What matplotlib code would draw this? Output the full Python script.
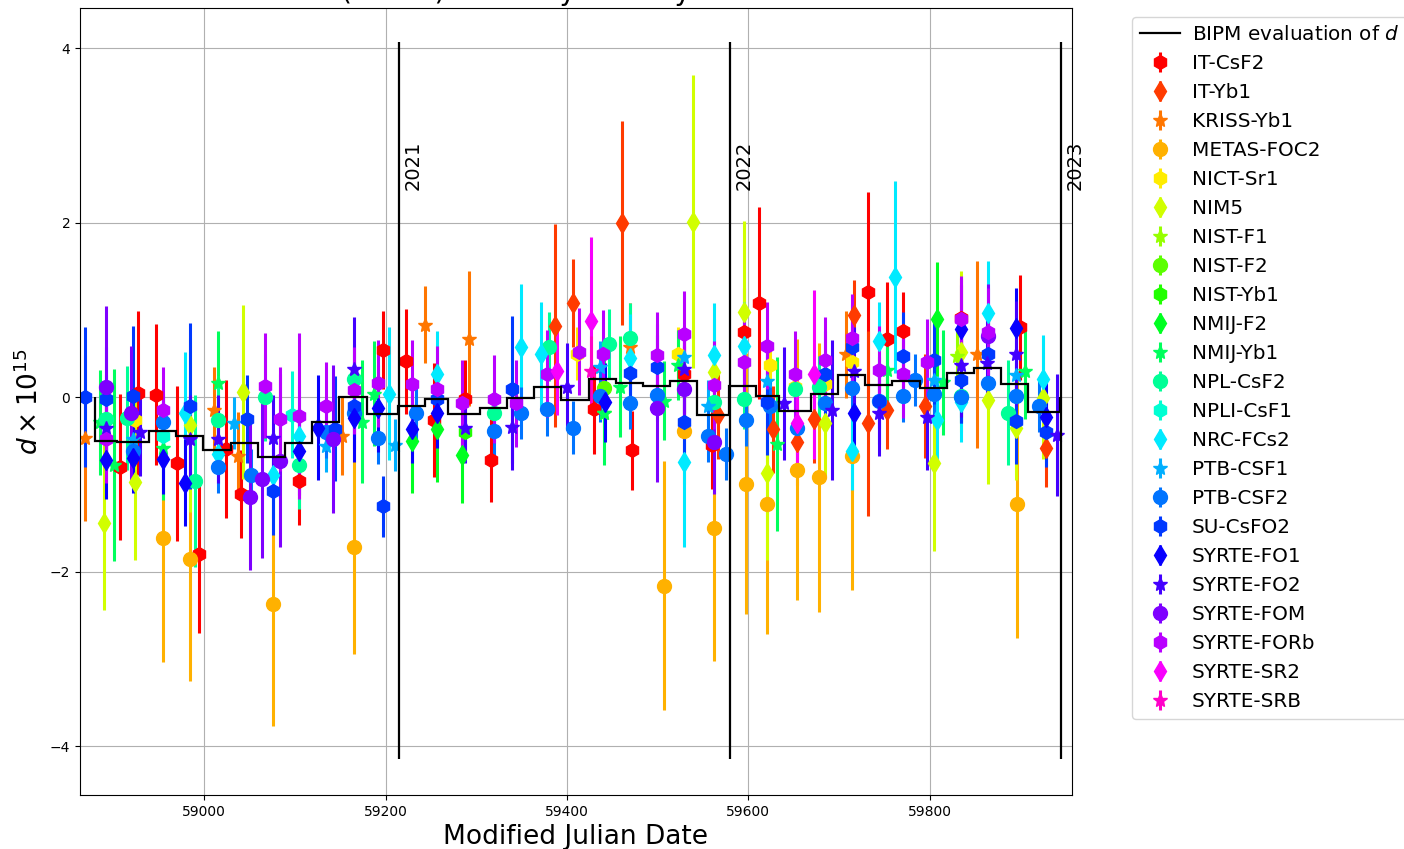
import numpy as np
import matplotlib
matplotlib.use("Agg")
import matplotlib.pyplot as plt

# --- BIPM evaluation of d (monthly steps) ---
STEP_EDGES = [58879, 58904, 58939, 58969, 58999, 59029, 59059, 59089, 59119, 59149,
              59179, 59214, 59244, 59269, 59304, 59334, 59364, 59394, 59424, 59454,
              59484, 59514, 59544, 59579, 59609, 59634, 59669, 59699, 59729, 59759,
              59789, 59819, 59849, 59879, 59909, 59944]
STEP_D = [-0.50, -0.51, -0.39, -0.44, -0.61, -0.52, -0.69, -0.53, -0.29, 0.00,
          -0.19, -0.10, -0.02, -0.19, -0.13, -0.01, 0.12, -0.03, 0.21, 0.16,
          0.13, 0.18, -0.20, 0.13, 0.01, -0.16, 0.04, 0.25, 0.14, 0.18,
          0.10, 0.28, 0.33, 0.15, -0.17]

YEAR_MJD = [59215, 59580, 59945]
YEAR_LABELS = ["2021", "2022", "2023"]

# --- per standard: (MJD, d x 1e15, uncertainty) ---
IT_CSF2 = ([58907, 58927, 58947, 58970, 58994, 59024, 59040, 59104, 59197, 59222, 59253, 59288,
            59316, 59430, 59472, 59529, 59560, 59595, 59612, 59732, 59753, 59771, 59835, 59900],
           [-0.80, 0.05, 0.03, -0.76, -1.80, -0.59, -1.11, -0.96, 0.54, 0.41, -0.26, -0.02,
            -0.72, -0.14, -0.61, 0.27, -0.55, 0.75, 1.08, 1.20, 0.67, 0.76, 0.91, 0.80],
           [0.84, 0.94, 0.81, 0.89, 0.90, 0.79, 0.50, 0.50, 0.45, 0.60, 0.65, 0.45,
            0.48, 0.51, 0.45, 0.50, 0.50, 0.50, 1.10, 1.15, 0.65, 0.45, 0.45, 0.60])
IT_YB1 = ([59387, 59407, 59461, 59567, 59627, 59654, 59672, 59717, 59732, 59753, 59795, 59928],
          [0.82, 1.08, 2.00, -0.21, -0.37, -0.51, -0.25, 0.94, -0.30, -0.15, -0.10, -0.58],
          [1.16, 0.50, 1.17, 0.50, 0.50, 0.50, 0.50, 0.40, 1.06, 0.45, 0.60, 0.45])
KRISS_YB1 = ([58869, 59011, 59037, 59152, 59244, 59292, 59470, 59708, 59852],
             [-0.47, -0.15, -0.67, -0.44, 0.83, 0.67, 0.58, 0.49, 0.49],
             [0.95, 0.50, 0.50, 0.45, 0.44, 0.77, 0.50, 0.50, 1.07])
METAS_FOC2 = ([58954, 58984, 59076, 59165, 59507, 59529, 59562, 59597, 59621, 59654, 59678,
               59714, 59896],
              [-1.61, -1.85, -2.37, -1.72, -2.16, -0.39, -1.50, -0.99, -1.22, -0.83, -0.92,
               -0.68, -1.23],
              [1.43, 1.40, 1.40, 1.22, 1.43, 0.60, 1.52, 1.50, 1.50, 1.50, 1.54, 1.53, 1.53])
NICT_SR1 = ([58924, 59411, 59523, 59624, 59652, 59685, 59714],
            [-0.26, 0.50, 0.50, 0.37, 0.12, 0.15, 0.40],
            [0.30, 0.30, 0.30, 0.25, 0.25, 0.25, 0.25])
NIM5 = ([58889, 58924, 58984, 59043, 59539, 59562, 59595, 59621, 59685, 59805, 59835, 59864,
         59895, 59925],
        [-1.44, -0.97, -0.32, 0.06, 2.01, 0.29, 0.97, -0.87, -0.30, -0.76, 0.52, -0.03,
         -0.35, -0.01],
        [1.00, 0.90, 1.00, 1.00, 1.68, 0.60, 1.05, 1.00, 0.60, 1.00, 0.92, 0.96, 0.60, 0.70])
NIST_F1 = ([59441, 59830], [-0.18, 0.47], [0.30, 0.30])
NIST_F2 = ([59441], [0.10], [0.30])
NIST_YB1 = ([59288], [-0.40], [0.25])
NMIJ_F2 = ([59229, 59257, 59284, 59808],
           [-0.50, -0.37, -0.66, 0.89],
           [0.60, 0.60, 0.55, 0.66])
NMIJ_YB1 = ([58885, 58901, 58954, 59015, 59174, 59187, 59441, 59459, 59507, 59522, 59632,
             59753, 59815, 59905],
            [-0.29, -0.78, -0.58, 0.16, -0.28, 0.04, -0.18, 0.12, -0.04, 0.37, -0.54,
             0.31, 0.17, 0.30],
            [0.60, 1.10, 0.60, 0.60, 0.70, 0.60, 0.60, 0.58, 0.45, 0.40, 1.00, 0.40, 0.60, 0.55])
NPL_CSF2 = ([58892, 58915, 58990, 59015, 59067, 59104, 59165, 59320, 59380, 59446, 59470,
             59562, 59595, 59652, 59678, 59835, 59887],
            [-0.25, -0.24, -0.96, -0.26, 0.00, -0.78, 0.21, -0.18, 0.58, 0.61, 0.68,
             -0.06, -0.02, 0.09, 0.12, 0.01, -0.18],
            [0.50, 0.60, 0.99, 0.50, 0.50, 0.50, 0.40, 0.35, 0.40, 0.40, 0.40, 0.30, 0.35,
             0.35, 0.35, 0.30, 0.60])
NPLI_CSF1 = ([58954, 59097], [-0.45, -0.20], [0.50, 0.50])
NRC_FCS2 = ([58979, 59015, 59076, 59104, 59204, 59257, 59349, 59371, 59470, 59529, 59562,
             59595, 59714, 59744, 59762, 59808, 59835, 59864, 59925],
            [-0.18, -0.65, -0.89, -0.45, 0.04, 0.26, 0.57, 0.49, 0.45, -0.74, 0.48,
             0.59, -0.62, 0.64, 1.38, -0.26, -0.06, 0.96, 0.21],
            [0.70, 0.35, 0.50, 0.60, 0.76, 0.50, 0.73, 0.60, 0.50, 0.98, 0.60, 0.50, 0.45,
             0.45, 1.10, 0.50, 0.45, 0.60, 0.50])
PTB_CSF1 = ([58921, 59033, 59134, 59210, 59437, 59529, 59556, 59621, 59805, 59895],
            [-0.48, -0.30, -0.56, -0.55, 0.34, 0.46, -0.10, 0.18, 0.20, 0.25],
            [0.30, 0.30, 0.30, 0.30, 0.30, 0.30, 0.30, 0.30, 0.30, 0.30])
PTB_CSF2 = ([58921, 58954, 59015, 59052, 59134, 59165, 59192, 59233, 59320, 59349, 59378,
             59407, 59437, 59470, 59499, 59556, 59575, 59597, 59624, 59654, 59685, 59714,
             59744, 59771, 59784, 59805, 59835, 59864, 59895, 59921],
            [-0.62, -0.29, -0.80, -0.89, -0.40, -0.18, -0.47, -0.18, -0.39, -0.18, -0.14,
             -0.35, 0.01, -0.07, 0.03, -0.44, -0.65, -0.26, -0.10, -0.35, -0.07, 0.10,
             -0.05, 0.01, 0.20, 0.04, 0.00, 0.16, 0.01, -0.10],
            [0.30] * 30)
SU_CSFO2 = ([58869, 58892, 58921, 58984, 59047, 59076, 59144, 59165, 59197, 59257, 59339,
             59470, 59499, 59529, 59621, 59685, 59714, 59744, 59771, 59805, 59835, 59864,
             59895, 59928],
            [0.00, -0.02, 0.01, -0.10, -0.25, -1.08, -0.36, -0.10, -1.25, -0.02, 0.09,
             0.28, 0.34, -0.28, -0.06, 0.26, 0.57, -0.04, 0.47, 0.42, 0.20, 0.49,
             -0.27, -0.40],
            [0.80, 0.60, 0.80, 0.95, 0.50, 0.50, 0.60, 0.50, 0.35, 0.40, 0.84, 0.40, 0.50,
             0.50, 0.60, 0.50, 0.50, 0.50, 0.50, 0.50, 0.50, 0.50, 0.50, 0.40])
SYRTE_FO1 = ([58892, 58921, 58954, 58979, 59104, 59126, 59165, 59192, 59229, 59257, 59442,
              59717, 59835, 59895, 59928],
             [-0.72, -0.70, -0.71, -0.98, -0.62, -0.35, -0.24, -0.13, -0.36, -0.18, -0.06,
              -0.18, 0.78, 0.79, -0.23],
             [0.45, 0.40, 0.40, 0.50, 0.50, 0.60, 0.50, 0.50, 0.40, 0.40, 0.45, 0.50, 0.50,
              0.46, 0.40])
SYRTE_FO2 = ([58892, 58929, 58984, 59015, 59076, 59165, 59288, 59339, 59400, 59529, 59639,
              59692, 59717, 59744, 59797, 59835, 59863, 59895, 59941],
             [-0.35, -0.40, -0.48, -0.48, -0.47, 0.32, -0.35, -0.34, 0.12, 0.32, -0.07,
              -0.15, 0.30, -0.18, -0.23, 0.37, 0.39, 0.50, -0.43],
             [0.50, 0.50, 0.50, 0.50, 0.50, 0.60, 0.40, 0.50, 0.50, 0.50, 0.65, 0.80, 0.50,
              0.50, 0.60, 0.60, 0.50, 0.60, 0.70])
SYRTE_FOM = ([58892, 58919, 59051, 59064, 59084, 59142, 59499, 59529, 59562, 59864],
             [0.12, -0.18, -1.14, -0.94, -0.73, -0.48, -0.13, 0.09, -0.51, 0.70],
             [0.92, 0.77, 0.84, 0.90, 0.99, 0.85, 0.84, 0.50, 0.60, 0.60])
SYRTE_FORB = ([58892, 58954, 59067, 59084, 59104, 59134, 59165, 59192, 59229, 59257, 59284,
               59320, 59344, 59378, 59413, 59440, 59499, 59529, 59562, 59595, 59621, 59652,
               59685, 59714, 59744, 59771, 59797, 59835, 59864],
              [-0.48, -0.15, 0.13, -0.25, -0.22, -0.10, 0.08, 0.16, 0.15, 0.09, -0.07,
               -0.02, -0.07, 0.27, 0.52, 0.50, 0.48, 0.72, 0.14, 0.40, 0.59, 0.26,
               0.42, 0.68, 0.31, 0.26, 0.40, 0.89, 0.75],
              [0.50, 0.50, 0.60, 0.60, 0.95, 0.50, 0.50, 0.50, 0.50, 0.50, 0.50, 0.50, 0.50,
               0.50, 0.50, 0.50, 0.50, 0.50, 0.50, 0.50, 0.50, 0.50, 0.50, 0.50, 0.50, 0.50,
               0.50, 0.50, 0.50])
SYRTE_SR2 = ([59389, 59427, 59654, 59672],
             [0.30, 0.87, -0.30, 0.26],
             [0.50, 0.97, 0.50, 0.97])
SYRTE_SRB = ([59427], [0.30], [0.40])

STANDARDS = [
    ("IT-CsF2", IT_CSF2), ("IT-Yb1", IT_YB1), ("KRISS-Yb1", KRISS_YB1),
    ("METAS-FOC2", METAS_FOC2), ("NICT-Sr1", NICT_SR1), ("NIM5", NIM5),
    ("NIST-F1", NIST_F1), ("NIST-F2", NIST_F2), ("NIST-Yb1", NIST_YB1),
    ("NMIJ-F2", NMIJ_F2), ("NMIJ-Yb1", NMIJ_YB1), ("NPL-CsF2", NPL_CSF2),
    ("NPLI-CsF1", NPLI_CSF1), ("NRC-FCs2", NRC_FCS2), ("PTB-CSF1", PTB_CSF1),
    ("PTB-CSF2", PTB_CSF2), ("SU-CsFO2", SU_CSFO2), ("SYRTE-FO1", SYRTE_FO1),
    ("SYRTE-FO2", SYRTE_FO2), ("SYRTE-FOM", SYRTE_FOM), ("SYRTE-FORb", SYRTE_FORB),
    ("SYRTE-SR2", SYRTE_SR2), ("SYRTE-SRB", SYRTE_SRB),
]
MARKERS = ["h", "d", "*", "o"]

fig = plt.figure(figsize=(14.04, 8.49), dpi=100)
ax = fig.add_axes([0.057, 0.0636, 0.7065, 0.927])

cmap = plt.get_cmap("hsv")
handles = []
for i, (name, (mjd, d, u)) in enumerate(STANDARDS):
    h = ax.errorbar(mjd, d, yerr=u, fmt=MARKERS[i % 4], color=cmap(i / 25),
                    markersize=10, elinewidth=2.2, label=name)
    handles.append(h)

step = ax.stairs(STEP_D, STEP_EDGES, color="black", lw=1.6,
                 label="BIPM evaluation of $d$", zorder=5)
ax.vlines(YEAR_MJD, -4.15, 4.07, color="black", lw=1.6, zorder=6)
for x, lab in zip(YEAR_MJD, YEAR_LABELS):
    ax.text(x + 5, 2.37, lab, rotation=90, ha="left", va="bottom", fontsize=14)

ax.set_xlim(58863, 59957)
ax.set_ylim(-4.56, 4.46)
ax.set_xticks([59000, 59200, 59400, 59600, 59800])
ax.set_yticks([-4, -2, 0, 2, 4])
ax.grid(True)
ax.set_xlabel("Modified Julian Date", fontsize=19)
ax.set_ylabel(r"$d \times 10^{15}$", fontsize=19)
# title sits mostly above the canvas, as in the source screenshot
ax.set_title("Estimates of d (TAI-TT) and d by country of each standard listed",
             fontsize=20)

ax.legend([step] + handles, [step.get_label()] + [s[0] for s in STANDARDS],
          loc="upper left", bbox_to_anchor=(0.806, 0.98), bbox_transform=fig.transFigure,
          borderaxespad=0, fontsize=14.4, labelspacing=0.5, handletextpad=0.6)

fig.savefig("out.png", dpi=100)
